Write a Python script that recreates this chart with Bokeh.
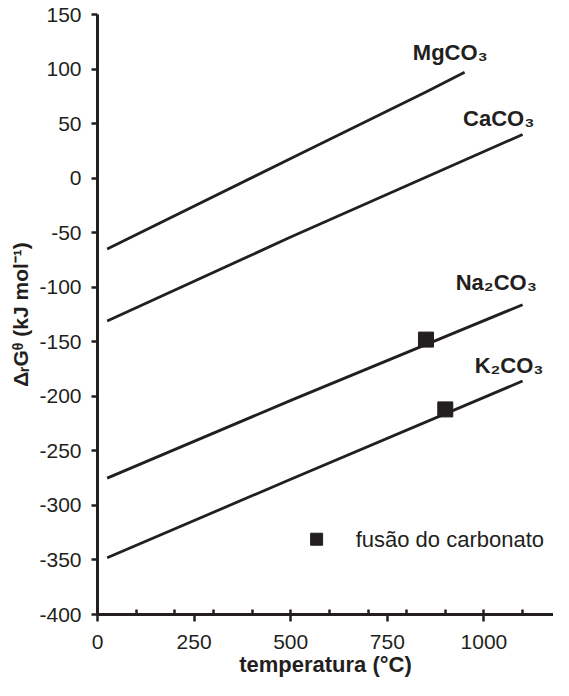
from bokeh.plotting import figure
from bokeh.models import FixedTicker, Title
from bokeh.core.properties import value
from bokeh.embed import file_html
from bokeh.resources import INLINE

# ---- data ----
temp_mg = [25, 500, 850, 950]
dg_mg = [-65, 18, 79, 97]
temp_ca = [25, 500, 1100]
dg_ca = [-131, -54, 40]
temp_na = [25, 505, 1100]
dg_na = [-275, -203, -116]
temp_k = [25, 500, 1100]
dg_k = [-348, -276, -186]

melt_temp = [850, 900]
melt_dg = [-148, -212]

label_names = ["MgCO₃", "CaCO₃", "Na₂CO₃", "K₂CO₃"]
label_x = [816, 946, 927, 976]
label_y = [115, 55, -96, -172]

legend_text = ["fusão do carbonato"]
legend_x = [567]
legend_xt = [668]
legend_y = [-331]

x_major = [0, 250, 500, 750, 1000]
x_minor = [100, 200, 300, 400, 500, 600, 700, 800, 900, 1000, 1100]
y_major = [-400, -350, -300, -250, -200, -150, -100, -50, 0, 50, 100, 150]
y_labels = {v: str(v) for v in y_major}   # plain hyphen minus, as in the reference

x_title = "temperatura (°C)"
y_title = "ΔᵣGᶿ (kJ mol⁻¹)"

FONT = "Liberation Sans"
INK = "#231f20"

p = figure(frame_width=456, frame_height=600,
           x_range=(0, 1180), y_range=(-400, 150),
           min_border_left=97, min_border_top=14, min_border_right=0,
           min_border_bottom=66,
           output_backend="svg", toolbar_location=None)
p.outline_line_color = None
p.xgrid.visible = False
p.ygrid.visible = False

for xs, ys in [(temp_mg, dg_mg), (temp_ca, dg_ca), (temp_na, dg_na), (temp_k, dg_k)]:
    p.line(xs, ys, line_color=INK, line_width=2.8)

p.scatter(melt_temp, melt_dg, marker="square", size=15, fill_color=INK, line_color=INK)

p.text(x=label_x, y=label_y, text=label_names, text_font=value(FONT),
       text_font_style="bold", text_font_size="22px", text_color=INK,
       text_align="left", text_baseline="middle")

p.scatter(legend_x, legend_y, marker="square", size=12, fill_color=INK, line_color=INK)
p.text(x=legend_xt, y=legend_y, text=legend_text, text_font=value(FONT),
       text_font_size="22px", text_color=INK, text_align="left", text_baseline="middle")

# x axis
xa = p.xaxis[0]
xa.ticker = FixedTicker(ticks=x_major, minor_ticks=x_minor)
xa.axis_label = x_title
xa.axis_label_text_font = FONT
xa.axis_label_text_font_style = "bold"
xa.axis_label_text_font_size = "22px"
xa.axis_label_text_color = INK
xa.axis_label_standoff = 0
xa.major_label_text_font = FONT
xa.major_label_text_font_size = "21px"
xa.major_label_text_color = INK
xa.major_label_standoff = 13
xa.axis_line_width = 3
xa.axis_line_color = INK
xa.major_tick_line_width = 2.5
xa.major_tick_line_color = INK
xa.major_tick_out = 7
xa.major_tick_in = 0
xa.minor_tick_line_width = 2.5
xa.minor_tick_line_color = INK
xa.minor_tick_in = 5
xa.minor_tick_out = 0

# y axis
ya = p.yaxis[0]
ya.ticker = FixedTicker(ticks=y_major, minor_ticks=[])
ya.major_label_overrides = y_labels
ya.major_label_text_font = FONT
ya.major_label_text_font_size = "21px"
ya.major_label_text_color = INK
ya.major_label_standoff = 10
ya.axis_line_width = 3
ya.axis_line_color = INK
ya.major_tick_line_width = 2.5
ya.major_tick_line_color = INK
ya.major_tick_out = 6
ya.major_tick_in = 0
ya.minor_tick_line_color = None

ytitle = Title(text=y_title, align="center", offset=60,
               text_font=FONT, text_font_style="bold", text_font_size="21px",
               text_color=INK, standoff=10)
p.add_layout(ytitle, "left")

open("out.html", "w").write(file_html(p, INLINE))
